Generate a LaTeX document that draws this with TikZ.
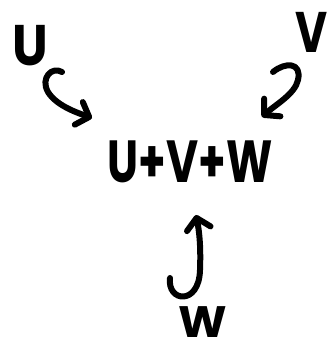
\documentclass[tikz,border=0pt]{standalone}
\usepackage{fontspec}
\setmainfont{Poppins}
\usetikzlibrary{arrows.meta}
\tikzset{
  lbl/.style={inner sep=0pt, font=\fontsize{44}{48}\selectfont\bfseries},
  hand/.style={line width=6pt, line cap=round, line join=round,
    -{Straight Barb[length=11pt, width=24pt, line width=6pt, round]}}
}
\begin{document}
\begin{tikzpicture}[x=1pt,y=-1pt]
\useasboundingbox (0,0) rectangle (331,348);
\node[lbl, xscale=1.15, yscale=1.3, transform shape] (u) at (30,46) {U};
\node[lbl, yscale=1.3, transform shape] (v) at (312,32) {V};
\node[lbl, yscale=1.35, transform shape] (s) at (190,162) {U+V+W};
\node[lbl, xscale=1.05, transform shape] (w) at (203,322) {W};
\coordinate (ua) at (62,72);
\coordinate (ub) at (92,118);
\coordinate (va) at (273,72);
\coordinate (vb) at (262,117);
\coordinate (wa) at (170,278);
\coordinate (wb) at (196,215);
\draw[hand] (ua) .. controls (52,66) and (40,78) .. (48,92) .. controls (56,105) and (75,112) .. (ub);
\draw[hand] (va) .. controls (285,62) and (302,62) .. (298,80) .. controls (295,94) and (275,105) .. (vb);
\draw[hand] (wa) .. controls (167,302) and (199,306) .. (200,270) .. controls (201,245) and (199,230) .. (wb);
\end{tikzpicture}
\end{document}
